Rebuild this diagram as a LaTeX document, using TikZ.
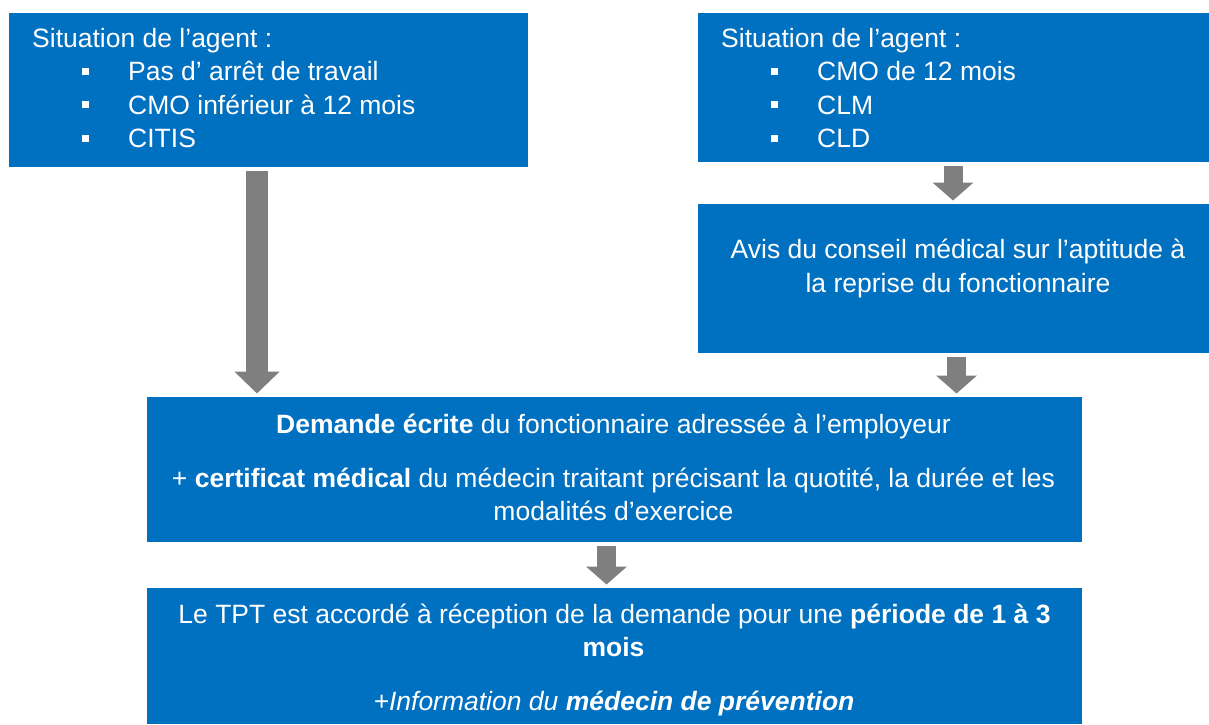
\documentclass[tikz,border=0pt]{standalone}
\usepackage{fontspec}
\setmainfont{Liberation Sans}
\usetikzlibrary{arrows.meta}
\definecolor{boxblue}{HTML}{0070C0}
\definecolor{arrowgray}{HTML}{7F7F7F}
\tikzset{
  box/.style={fill=boxblue, inner sep=0pt, anchor=north west},
  txt/.style={text=white, inner sep=0pt, anchor=base, font=\fontsize{26.5}{33.5}\selectfont},
  item/.style={txt, anchor=base west},
  flow/.style={draw=arrowgray, line width=19pt, shorten <=3.5pt, shorten >=3.5pt,
    -{Triangle[length=18pt,width=40pt]}},
  bigflow/.style={flow, line width=22pt, -{Triangle[length=22pt,width=44pt]}}
}
\begin{document}
\begin{tikzpicture}[x=1pt, y=-1pt]
\useasboundingbox (0,0) rectangle (1209,724);
\node[box, minimum width=519pt, minimum height=154pt] (sitA) at (9,13) {};
\node[box, minimum width=511pt, minimum height=149pt] (sitB) at (698,13) {};
\node[box, minimum width=511pt, minimum height=149pt] (avis) at (698,204) {};
\node[box, minimum width=935pt, minimum height=145pt] (demande) at (147,397) {};
\node[box, minimum width=935pt, minimum height=136pt] (accord) at (147,588) {};

\node[item] (titreA) at (32,47) {Situation de l’agent :};
\foreach\t [count=\i, evaluate=\i as \y using 47+33.5*\i] in
  {Pas d’ arrêt de travail, CMO inférieur à 12 mois, CITIS}{
  \fill[white] (82,\y-13) rectangle ++(7,7);
  \node[item] (itemA\i) at (128,\y) {\t};
}
\node[item] (titreB) at (721,47) {Situation de l’agent :};
\foreach\t [count=\i, evaluate=\i as \y using 47+33.5*\i] in
  {CMO de 12 mois, CLM, CLD}{
  \fill[white] (771,\y-13) rectangle ++(7,7);
  \node[item] (itemB\i) at (817,\y) {\t};
}

\node[txt] (avis1) at (958,258) {Avis du conseil médical sur l’aptitude à};
\node[txt] (avis2) at (958,292) {la reprise du fonctionnaire};

\node[txt] (dem1) at (613.5,433) {\textbf{Demande écrite} du fonctionnaire adressée à l’employeur};
\node[txt] (dem2) at (613.5,487) {+ \textbf{certificat médical} du médecin traitant précisant la quotité, la durée et les};
\node[txt] (dem3) at (613.5,520) {modalités d’exercice};

\node[txt] (acc1) at (614.5,623) {Le TPT est accordé à réception de la demande pour une \textbf{période de 1 à 3}};
\node[txt] (acc2) at (613.5,656) {\textbf{mois}};
\node[txt] (acc3) at (614,710) {\textit{+Information du \textbf{médecin de prévention}}};

\coordinate (a1) at (257,0);
\coordinate (a2) at (953,0);
\coordinate (a3) at (956.5,0);
\coordinate (a4) at (606.5,0);
\draw[bigflow] (sitA.south -| a1) -- (demande.north -| a1);
\draw[flow] (sitB.south -| a2) -- (avis.north -| a2);
\draw[flow] (avis.south -| a3) -- (demande.north -| a3);
\draw[flow] (demande.south -| a4) -- (accord.north -| a4);
\end{tikzpicture}
\end{document}
